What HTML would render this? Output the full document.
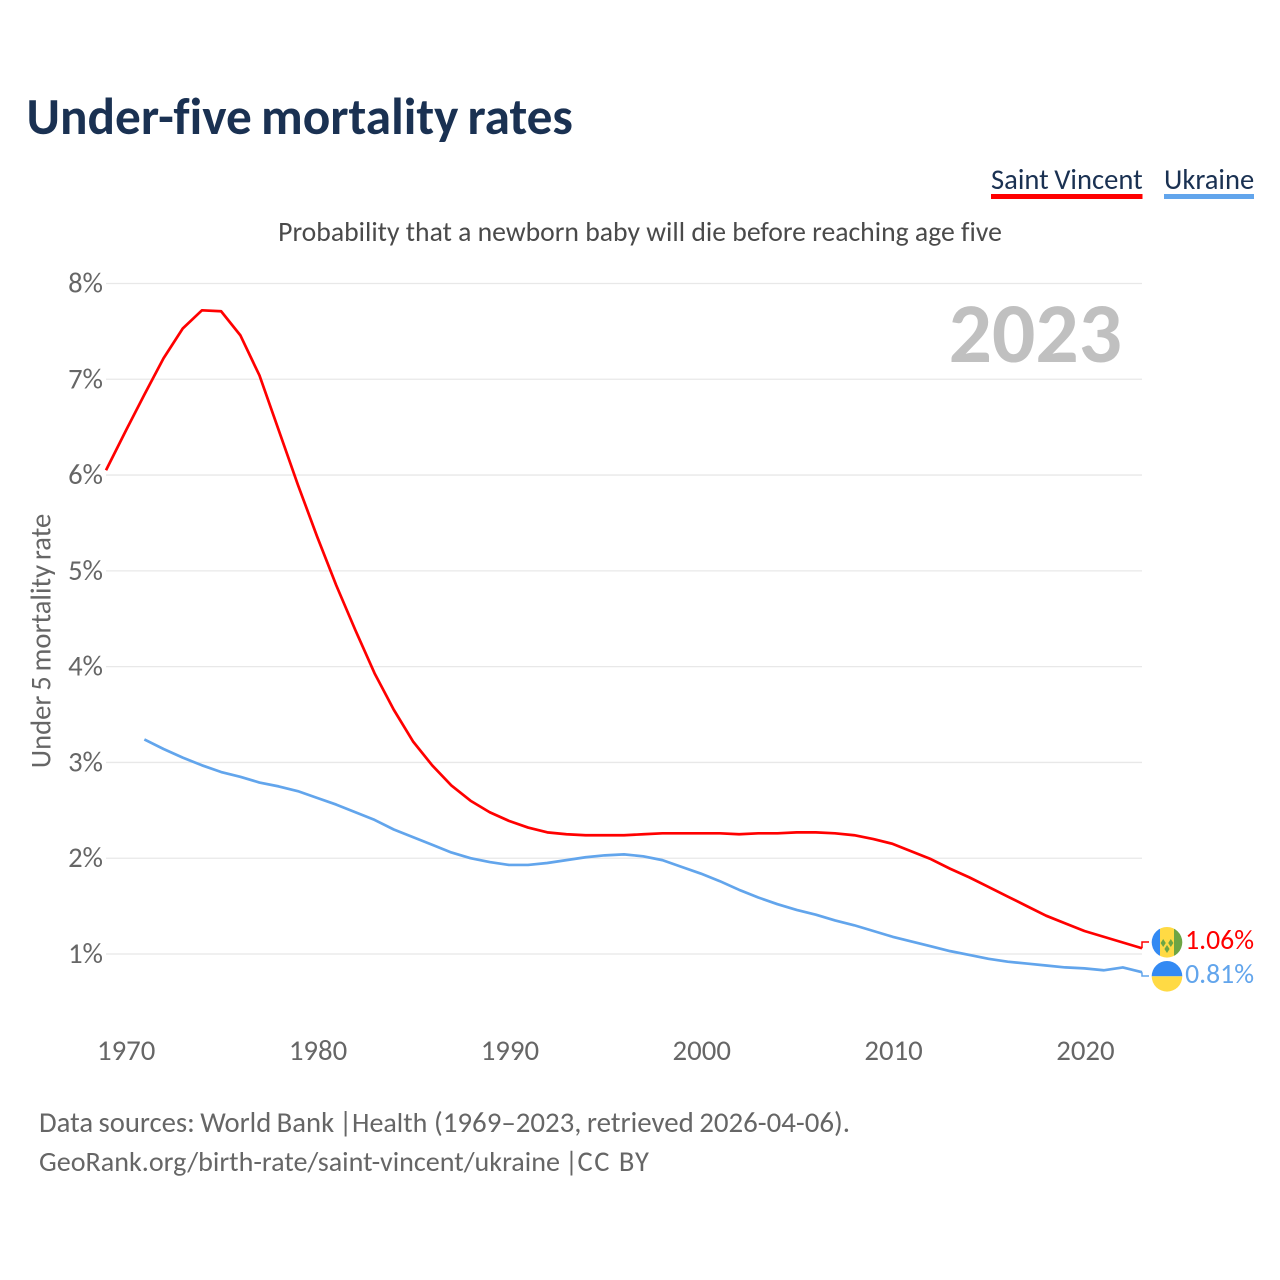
<!DOCTYPE html>
<html lang="en">
<head>
<meta charset="utf-8">
<title>Under-five mortality rates</title>
<style>
html,body{margin:0;padding:0;background:#fff;width:1280px;height:1280px;overflow:hidden}
svg{display:block}
text{font-family:"Carlito","Lato","Liberation Sans",sans-serif;font-variant-ligatures:none}
</style>
</head>
<body>
<svg id="chart" xmlns="http://www.w3.org/2000/svg" width="1280" height="1280" viewBox="0 0 1280 1280">
  <rect width="1280" height="1280" fill="#ffffff"/>
  <text x="26.500" y="134" font-size="51.300" font-weight="700" word-spacing="-2.500" fill="#1a3152">Under-five mortality rates</text>
  <g>
    <text x="991" y="189" font-size="28.600" word-spacing="-1" fill="#1a3152">Saint Vincent</text>
    <rect x="991" y="194" width="151.500" height="5" fill="#ff0000"/>
  </g>
  <g>
    <text x="1164" y="189" font-size="28.600" fill="#1a3152">Ukraine</text>
    <rect x="1164" y="194" width="90" height="5" fill="#62a5ec"/>
  </g>
  <text x="640" y="241" font-size="27.700" text-anchor="middle" fill="#4a4a4a">Probability that a newborn baby will die before reaching age five</text>
  <text transform="translate(50.500 641) rotate(-90)" font-size="28.600" word-spacing="-1.600" text-anchor="middle" fill="#666666">Under 5 mortality rate</text>
  <g id="grid"></g>
  <g id="yticks"></g>
  <g id="xticks"></g>
  <text x="1122" y="362" font-size="85.500" font-weight="700" text-anchor="end" fill="#c0c0c0">2023</text>
  <g id="series"></g>

  <g>
    <clipPath id="c1"><circle cx="1167" cy="942.300" r="15.300"/></clipPath>
    <g clip-path="url(#c1)">
      <rect x="1151" y="926" width="9" height="33" fill="#338af3"/>
      <rect x="1160" y="926" width="14" height="33" fill="#ffda44"/>
      <rect x="1174" y="926" width="9" height="33" fill="#6da544"/>
      <path d="M1163.200 939l2.600 4-2.600 4-2.600-4zM1170.800 939l2.600 4-2.600 4-2.600-4zM1167 945l2.600 4-2.600 4-2.600-4z" fill="#6da544"/>
    </g>
  </g>
  <g>
    <clipPath id="c2"><circle cx="1167" cy="976.300" r="15.300"/></clipPath>
    <g clip-path="url(#c2)">
      <rect x="1151" y="960" width="32" height="16.300" fill="#338af3"/>
      <rect x="1151" y="976.300" width="32" height="17" fill="#ffda44"/>
    </g>
  </g>
  <text x="1254" y="949" font-size="27.700" text-anchor="end" fill="#ff0000">1.06%</text>
  <text x="1254" y="983" font-size="27.700" text-anchor="end" fill="#62a5ec">0.81%</text>
  <text x="39" y="1132" font-size="28.700" fill="#666666" word-spacing="-1.100">Data sources: World Bank <tspan x="339">| </tspan><tspan x="352" font-size="28">Health </tspan><tspan x="434" font-size="28.900">(1969–2023, retrieved 2026-04-06).</tspan></text>
  <text x="39" y="1171" font-size="28.100" fill="#666666">GeoRank.org/birth-rate/saint-vincent/ukraine <tspan x="565">| </tspan><tspan x="577.500" letter-spacing="1.500" font-size="28.500">CC BY</tspan></text>
</svg>
<script>
const yTickValues = [1, 2, 3, 4, 5, 6, 7, 8];
const xTickYears = [1970, 1980, 1990, 2000, 2010, 2020];
const saintVincentStartYear = 1969;
const saintVincentValues = [6.05, 6.45, 6.84, 7.22, 7.53, 7.72, 7.71, 7.46, 7.04, 6.47, 5.90, 5.36, 4.85, 4.38, 3.93, 3.55, 3.22, 2.97, 2.76, 2.60, 2.48, 2.39, 2.32, 2.27, 2.25, 2.24, 2.24, 2.24, 2.25, 2.26, 2.26, 2.26, 2.26, 2.25, 2.26, 2.26, 2.27, 2.27, 2.26, 2.24, 2.20, 2.15, 2.07, 1.99, 1.89, 1.80, 1.70, 1.60, 1.50, 1.40, 1.32, 1.24, 1.18, 1.12, 1.06];
const ukraineStartYear = 1971;
const ukraineValues = [3.24, 3.14, 3.05, 2.97, 2.90, 2.85, 2.79, 2.75, 2.70, 2.63, 2.56, 2.48, 2.40, 2.30, 2.22, 2.14, 2.06, 2.00, 1.96, 1.93, 1.93, 1.95, 1.98, 2.01, 2.03, 2.04, 2.02, 1.98, 1.91, 1.84, 1.76, 1.67, 1.59, 1.52, 1.46, 1.41, 1.35, 1.30, 1.24, 1.18, 1.13, 1.08, 1.03, 0.99, 0.95, 0.92, 0.90, 0.88, 0.86, 0.85, 0.83, 0.86, 0.81];

const NS = 'http://www.w3.org/2000/svg';
const xScale = year => 106 + (year - 1969) * (1142 - 106) / 54;
const yScale = value => 954 - (value - 1) * (954 - 283.5) / 7;

function make(tag, attrs, parent, text) {
  const el = document.createElementNS(NS, tag);
  for (const k in attrs) el.setAttribute(k, attrs[k]);
  if (text !== undefined) el.textContent = text;
  parent.appendChild(el);
  return el;
}

const grid = document.getElementById('grid');
const yticks = document.getElementById('yticks');
const xticks = document.getElementById('xticks');
const series = document.getElementById('series');

yTickValues.forEach(v => {
  const line = make('line', {x1: 106, x2: 1142, y1: yScale(v), y2: yScale(v), stroke: '#e8e8e8', 'stroke-width': 1.3}, grid);
  
  
  const label = make('text', {x: 103, y: yScale(v) + 9, 'font-size': 28.600, 'text-anchor': 'end', fill: '#666666'}, yticks, v + '%');
  
  
});

xTickYears.forEach(y => {
  const label = make('text', {x: xScale(y) + 1, y: 1060, 'font-size': 28.800, 'text-anchor': 'middle', fill: '#666666'}, xticks, String(y));
  
  
});

function linePoints(values, startYear) {
  return values.map((v, i) => xScale(startYear + i).toFixed(2) + ',' + yScale(v).toFixed(2));
}

const ukrLast = yScale(ukraineValues[ukraineValues.length - 1]);
const svcLast = yScale(saintVincentValues[saintVincentValues.length - 1]);

const ukrConnector = make('polyline', {points: '1142,' + ukrLast.toFixed(2) + ' 1142,976 1149,976', fill: 'none', stroke: '#62a5ec', 'stroke-width': 1.5}, series);



const svcConnector = make('polyline', {points: '1142,' + svcLast.toFixed(2) + ' 1142,942 1149,942', fill: 'none', stroke: '#ff0000', 'stroke-width': 1.5}, series);



const ukrLine = make('polyline', {points: linePoints(ukraineValues, ukraineStartYear).join(' '), fill: 'none', stroke: '#62a5ec', 'stroke-width': 2.7, 'stroke-linejoin': 'round'}, series);



const svcLine = make('polyline', {points: linePoints(saintVincentValues, saintVincentStartYear).join(' '), fill: 'none', stroke: '#ff0000', 'stroke-width': 2.7, 'stroke-linejoin': 'round'}, series);


</script>
</body>
</html>
